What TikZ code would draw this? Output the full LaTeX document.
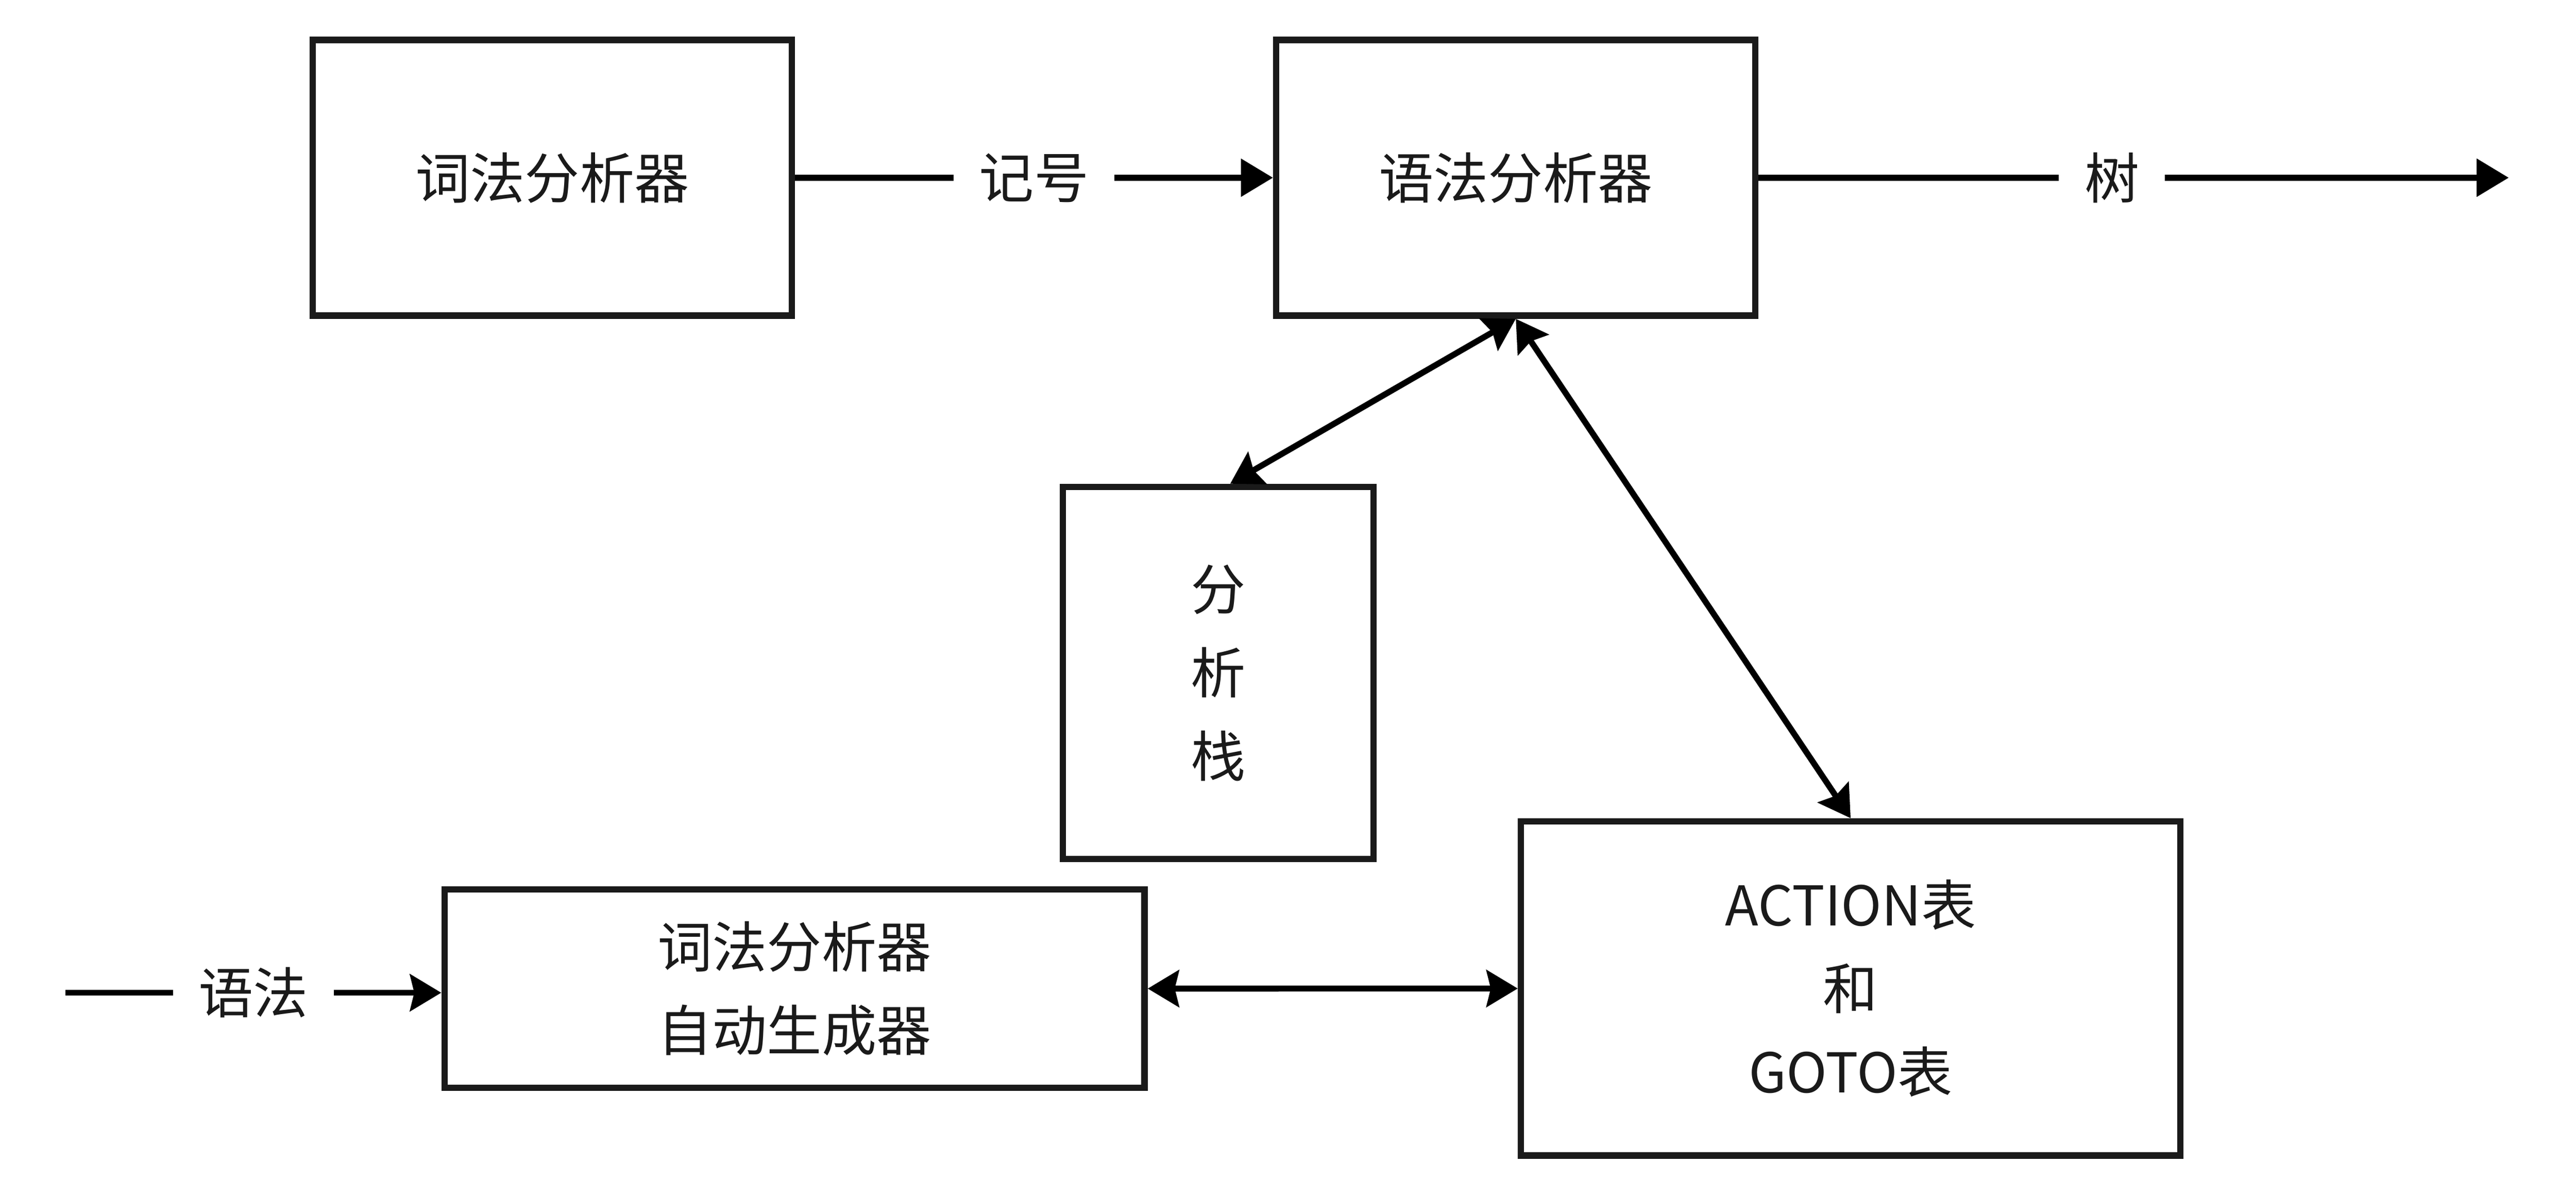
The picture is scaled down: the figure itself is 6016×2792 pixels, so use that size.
\documentclass[tikz,border=0pt]{standalone}
\usepackage{fontspec}
\setmainfont{Noto Sans CJK SC}
\usetikzlibrary{arrows.meta,calc}
\definecolor{bord}{RGB}{26,26,26}
\begin{document}
\begin{tikzpicture}[x=0.1pt,y=-0.1pt,
  box/.style={draw=bord,line width=1.5pt,inner sep=0pt,align=center,
    font=\fontsize{12.8pt}{19.5pt}\selectfont,text=bord},
  conn/.style={line width=1.4pt,draw=black},
  lab/.style={fill=white,inner xsep=6pt,inner ysep=2pt,
    font=\fontsize{12.8pt}{15pt}\selectfont,text=bord},
  tri/.tip={Triangle[length=7.5pt,width=8.6pt]},
  stl/.tip={Stealth[length=7.3pt,width=8.6pt,inset=1pt]}]
\useasboundingbox (0,0) rectangle (6016,2792);
\fill[white] (0,0) rectangle (6016,2792);
\node[box,minimum width=111.9pt,minimum height=64.4pt] (lex) at (1290,415) {词法分析器};
\node[box,minimum width=111.9pt,minimum height=64.4pt] (par) at (3540,415) {语法分析器};
\node[box,minimum width=72.6pt,minimum height=86.9pt] (stk) at (2845,1571.5) {分\\析\\栈};
\node[box,minimum width=163.5pt,minimum height=46.3pt] (gen) at (1855.5,2308.5) {词法分析器\\自动生成器};
\node[box,minimum width=154pt,minimum height=78pt] (tab) at (4322,2308) {ACTION表\\和\\GOTO表};
\coordinate (treeend) at (5859,415);
\coordinate (gstart) at (153,2318);
\draw[conn,-tri] (lex) -- node[lab]{记号} (par);
\draw[conn,-tri] (par) -- node[lab,pos=0.471]{树} (treeend);
\draw[conn,-stl] (gstart) -- node[lab]{语法} (gstart -| gen.west);
\draw[conn,stl-stl] (gen) -- (tab);
\draw[conn,stl-stl] (par.south) -- ($(stk.north)+(28,0)$);
\draw[conn,stl-stl] (par.south) -- (tab.north);
\end{tikzpicture}
\end{document}
